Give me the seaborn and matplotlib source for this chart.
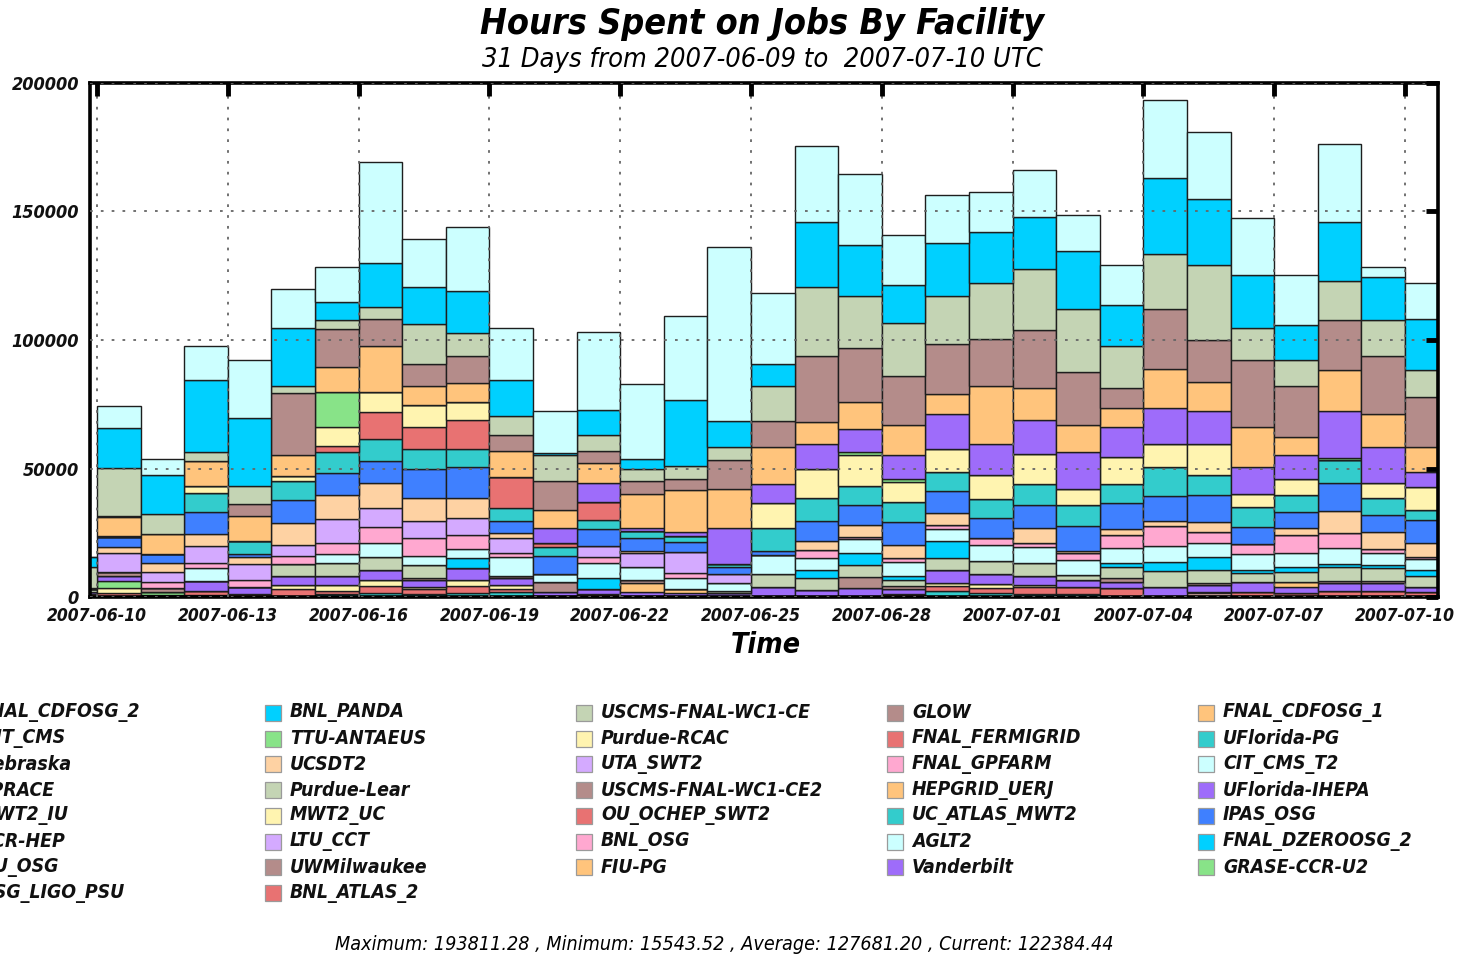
import os
import numpy as np
import pandas as pd
import matplotlib
matplotlib.use("Agg")
import matplotlib.pyplot as plt
import matplotlib.dates as mdates
from matplotlib.patches import Rectangle
from matplotlib.font_manager import FontProperties, fontManager, findfont
import seaborn as sns

# ---------------- data (thousands of hours per day) ----------------
days = ["2007-06-09", "2007-06-10", "2007-06-11", "2007-06-12", "2007-06-13", "2007-06-14",
        "2007-06-15", "2007-06-16", "2007-06-17", "2007-06-18", "2007-06-19", "2007-06-20",
        "2007-06-21", "2007-06-22", "2007-06-23", "2007-06-24", "2007-06-25", "2007-06-26",
        "2007-06-27", "2007-06-28", "2007-06-29", "2007-06-30", "2007-07-01", "2007-07-02",
        "2007-07-03", "2007-07-04", "2007-07-05", "2007-07-06", "2007-07-07", "2007-07-08",
        "2007-07-09", "2007-07-10"]

xtick_labels = ["2007-06-10", "2007-06-13", "2007-06-16", "2007-06-19", "2007-06-22", "2007-06-25",
                "2007-06-28", "2007-07-01", "2007-07-04", "2007-07-07", "2007-07-10"]
ytick_values = [0, 50000, 100000, 150000, 200000]
ytick_labels = ["0", "50000", "100000", "150000", "200000"]

FNAL_CDFOSG_2 = [0, 8.6, 6.2, 13.2, 22.4, 15.3, 13.9, 39.3, 18.4, 25.0, 20.1, 16.2, 30.2, 29.1, 32.5, 67.8,
                 27.6, 29.3, 27.5, 19.5, 18.5, 15.6, 18.1, 14.1, 15.6, 30.1, 25.9, 22.3, 19.3, 30.0, 3.9, 13.9]
BNL_PANDA = [4.0, 15.7, 15.4, 27.8, 26.6, 22.4, 6.7, 17.0, 14.5, 16.2, 13.9, 0.8, 10.0, 3.8, 25.7, 10.0,
             8.5, 25.5, 20.1, 14.8, 20.8, 19.9, 20.1, 22.3, 16.1, 29.6, 25.7, 20.7, 13.6, 23.2, 17.0, 19.8]
USCMS_FNAL_WC1_CE = [8.0, 18.4, 7.5, 3.8, 7.0, 3.0, 3.7, 4.6, 15.6, 9.0, 7.7, 10.1, 6.2, 4.9, 5.3, 4.8,
                     13.9, 26.8, 20.2, 20.6, 18.7, 21.9, 24.0, 24.7, 16.0, 21.5, 29.2, 12.2, 10.2, 15.3, 13.8, 10.7]
GLOW = [0, 0.6, 0, 0, 4.5, 23.9, 14.9, 10.8, 8.5, 10.5, 6.2, 11.1, 4.6, 4.9, 4.0, 11.6,
        10.0, 25.7, 20.8, 19.2, 19.4, 18.3, 22.3, 20.6, 7.9, 23.2, 16.4, 26.4, 20.0, 19.4, 22.5, 19.5]
FNAL_CDFOSG_1 = [0, 7.2, 8.0, 9.7, 10.1, 8.1, 9.4, 17.6, 7.6, 7.3, 10.2, 7.0, 7.9, 13.2, 16.4, 14.9,
                 14.5, 8.4, 10.7, 11.8, 7.8, 22.3, 12.5, 10.6, 7.6, 15.3, 11.4, 15.3, 7.1, 16.0, 13.0, 9.7]
MIT_CMS = [0, 0.6, 0, 0, 0, 0, 0, 0, 0, 0, 0, 5.9, 7.2, 1.2, 1.6, 14.2,
           7.4, 10.0, 8.8, 9.3, 13.7, 12.2, 13.2, 14.4, 11.6, 14.2, 12.8, 10.8, 9.3, 18.0, 14.1, 5.8]
TTU_ANTAEUS = [0, 0, 0, 0, 0, 0, 13.6, 0, 0, 0, 0, 0, 0, 0, 0, 0,
               0, 0, 1.4, 1.1, 0, 0, 0, 0, 0, 0, 0, 0, 0, 0.7, 0, 0]
Purdue_RCAC = [0, 0, 0, 2.6, 0, 2.1, 7.7, 8.0, 8.6, 7.2, 0, 0, 0, 0, 0, 0,
               9.4, 11.2, 12.0, 7.9, 8.8, 9.3, 12.0, 6.2, 10.6, 8.7, 11.9, 4.8, 6.2, 0, 5.5, 8.8]
FNAL_FERMIGRID = [0, 0, 0, 0, 0, 0, 2.1, 10.5, 8.6, 11.2, 11.7, 1.8, 6.9, 0, 0, 0,
                  0, 0, 0, 0, 0, 0, 0, 0, 0, 0, 0, 0, 0, 0, 0, 0]
UFlorida_PG = [0, 0, 0, 7.5, 4.9, 7.2, 8.3, 8.6, 7.4, 6.9, 5.2, 3.4, 3.8, 3.0, 2.3, 1.0,
               9.0, 9.1, 7.4, 7.6, 7.3, 7.3, 8.1, 8.1, 7.4, 11.4, 7.9, 7.8, 6.5, 9.1, 6.9, 3.9]
Nebraska = [0, 3.7, 3.6, 8.3, 1.3, 9.0, 8.6, 8.6, 11.4, 12.0, 4.6, 7.0, 6.5, 4.9, 3.9, 2.9,
            1.7, 7.5, 7.7, 9.0, 8.8, 8.1, 8.7, 9.6, 10.1, 9.7, 10.4, 6.7, 6.1, 11.1, 6.4, 9.0]
UCSDT2 = [0, 2.3, 3.5, 4.9, 2.7, 8.7, 9.1, 9.4, 9.0, 7.9, 2.2, 0, 0, 0.9, 0, 0,
          0, 3.7, 4.6, 5.2, 4.5, 0, 5.9, 1.0, 2.2, 1.8, 3.8, 0, 2.9, 8.3, 6.9, 5.7]
UTA_SWT2 = [0, 7.6, 3.9, 6.4, 6.1, 4.3, 9.4, 7.5, 6.8, 6.7, 5.6, 0, 4.4, 5.2, 8.2, 3.6,
            0, 0, 0, 0, 0, 0, 0, 0, 0, 0, 0, 0, 0, 0, 0, 0]
FNAL_GPFARM = [0, 0, 2.1, 2.3, 2.8, 3.2, 4.4, 6.2, 6.9, 5.5, 1.5, 0, 2.1, 0, 2.2, 0,
               0, 3.2, 1.0, 1.3, 1.7, 2.6, 1.8, 2.6, 5.2, 7.9, 4.3, 3.9, 6.9, 6.1, 1.5, 0.8]
CIT_CMS_T2 = [0, 0, 0, 5.0, 0, 0, 3.4, 5.7, 3.5, 3.6, 7.5, 2.9, 6.1, 5.2, 4.2, 2.9,
              7.4, 4.5, 5.2, 5.5, 4.4, 6.1, 6.0, 5.9, 5.8, 6.3, 5.7, 6.2, 5.4, 6.1, 4.6, 4.1]
SPRACE = [0, 0, 0, 0, 0, 0, 0, 0, 0, 3.9, 0, 0, 4.2, 0, 0, 0,
          0, 3.3, 4.8, 1.6, 6.9, 0, 0, 0, 1.6, 3.6, 4.7, 1.3, 2.0, 1.0, 1.3, 2.3]
Purdue_Lear = [0, 0, 0, 0, 0, 4.5, 5.1, 4.9, 4.9, 0, 0, 0, 0, 0, 0, 1.0,
               5.1, 4.5, 4.5, 2.3, 4.3, 5.2, 5.1, 1.9, 4.3, 6.2, 5.4, 3.2, 3.8, 5.5, 4.8, 4.4]
USCMS_FNAL_WC1_CE2 = [0, 1.7, 1.7, 0, 0, 0, 0, 0, 0.9, 0, 1.0, 3.9, 0, 1.3, 0, 0,
                      0, 0, 4.5, 1.3, 0, 0, 0, 0, 1.2, 0, 0.7, 0, 0, 1.0, 1.0, 0]
HEPGRID_UERJ = [0, 0, 0, 0, 0, 0, 0, 0, 0, 0, 0, 0, 0, 3.2, 1.6, 0,
                0, 0, 0, 0, 0, 0, 0, 0, 0, 0, 0, 0, 2.2, 0, 0, 0]
UFlorida_IHEPA = [0, 1.6, 0, 3.9, 2.6, 3.5, 3.5, 3.9, 2.8, 4.5, 2.5, 1.7, 2.0, 2.1, 1.4, 1.4,
                  3.8, 2.7, 3.4, 1.8, 5.4, 3.9, 3.5, 2.8, 2.6, 3.8, 2.5, 3.9, 2.1, 2.8, 2.8, 1.7]
MWT2_IU = [0, 3.0, 1.0, 0, 0, 0, 0, 0, 0, 0, 0, 0, 0, 0, 0, 0,
           0, 0, 0, 0, 0, 0, 0, 0, 0, 0, 0, 0, 0, 0, 0, 0]
MWT2_UC = [0, 1.7, 0, 0, 0, 1.6, 2.2, 2.3, 0.8, 2.3, 1.7, 0, 0, 0, 0, 0,
           0, 0, 0, 0, 1.0, 1.6, 0.9, 0, 0, 0, 0, 0, 0, 0, 0, 0]
OU_OCHEP_SWT2 = [0.5, 1.7, 0.9, 1.5, 1.2, 3.1, 1.3, 2.9, 2.0, 2.6, 1.1, 0.4, 1.0, 0, 0, 0,
                 0, 0, 0, 1.2, 1.8, 1.7, 2.6, 2.6, 3.4, 0, 0, 2.1, 1.7, 2.5, 2.5, 2.1]
UC_ATLAS_MWT2 = [0, 0, 0, 0, 0, 0, 1.2, 1.4, 1.0, 1.7, 1.9, 0, 0, 0, 0, 0,
                 0, 0, 0, 0, 2.5, 1.7, 1.2, 1.2, 0, 0, 0, 0, 0, 0, 0, 0]
IPAS_OSG = [0, 0, 0, 0, 0, 0, 0, 0, 0, 0, 0, 0, 0, 0, 0, 0,
            0, 0, 0, 0, 0, 0, 0, 0, 0, 0, 0, 0, 0, 0, 0, 0]
UCR_HEP = [0, 0, 0, 0, 0, 0, 0, 0, 0, 0, 0, 0, 0, 0, 0, 0,
           0, 0, 0, 0, 0, 0, 0, 0, 0, 0, 0, 0, 0, 0, 0, 0]
LTU_CCT = [0, 0, 0, 0, 0, 0, 0, 0, 0, 0, 0, 0, 0, 0, 0, 0,
           0, 0, 0, 0, 0, 0, 0, 0, 0, 0, 0, 0, 0, 0, 0, 0]
BNL_OSG = [0, 0, 0, 0, 0, 0, 0, 0, 0, 0, 0, 0, 0, 0, 0, 0,
           0, 0, 0, 0, 0, 0, 0, 0, 0, 0, 0, 0, 0, 0, 0, 0]
AGLT2 = [0, 0, 0, 0, 0, 0, 0, 0, 0, 0, 0, 0, 0, 0, 0, 0,
         0, 0, 0, 0, 0, 0, 0, 0, 0, 0, 0, 0, 0, 0, 0, 0]
FNAL_DZEROOSG_2 = [0, 0, 0, 0, 0, 0, 0, 0, 0, 0, 0, 0, 0, 0, 0, 0,
                   0, 0, 0, 0, 0, 0, 0, 0, 0, 0, 0, 0, 0, 0, 0, 0]
OU_OSG = [1.0, 0, 0, 0, 0, 0, 0, 0, 0, 0, 0, 0, 0, 0, 0, 0,
          0, 0, 0, 0, 0, 0, 0, 0, 0, 0, 0, 0, 0, 0, 0, 0]
UWMilwaukee = [0, 0, 0, 0, 0, 0, 0, 0, 0, 0, 0, 0, 0, 0, 0, 0,
               0, 0, 0, 0, 0, 0, 0, 0, 0, 0, 2.1, 0, 0, 0, 0, 0]
FIU_PG = [0, 0, 0, 0, 0, 0, 0, 0, 0, 0, 0, 0, 0, 0, 0, 0,
          0, 0, 0, 0, 0, 0, 0, 0, 0, 0, 0, 0, 0, 0, 0, 0]
Vanderbilt = [1.0, 0, 0, 0, 0, 0, 0, 0, 0, 0, 0, 0, 0, 0, 0, 0,
              0, 0, 0, 0, 0, 0, 0, 0, 0, 0, 0, 0, 0, 0, 0, 0]
GRASE_CCR_U2 = [0, 0, 0, 0, 0, 0, 0, 0, 0, 0, 0, 0, 0, 0, 0, 0,
                0, 0, 0, 0, 0, 0, 0, 0, 0, 0, 0, 0, 0, 0, 0, 0]
OSG_LIGO_PSU = [0, 0, 0, 0, 0, 0, 0, 0, 0, 0, 0, 0, 0, 0, 0, 0,
                0, 0, 0, 0, 0, 0, 0, 0, 0, 0, 0, 0, 0, 0, 0, 0]
BNL_ATLAS_2 = [1.0, 0, 0, 0.7, 0, 0, 0, 0, 0, 0, 0, 0, 0, 0, 0, 0,
               0, 0, 0, 0, 0, 0, 0, 0, 0, 0, 0, 0, 0, 0, 0, 0]

sites = ["FNAL_CDFOSG_2", "BNL_PANDA", "USCMS-FNAL-WC1-CE", "GLOW", "FNAL_CDFOSG_1",
         "MIT_CMS", "TTU-ANTAEUS", "Purdue-RCAC", "FNAL_FERMIGRID", "UFlorida-PG",
         "Nebraska", "UCSDT2", "UTA_SWT2", "FNAL_GPFARM", "CIT_CMS_T2",
         "SPRACE", "Purdue-Lear", "USCMS-FNAL-WC1-CE2", "HEPGRID_UERJ", "UFlorida-IHEPA",
         "MWT2_IU", "MWT2_UC", "OU_OCHEP_SWT2", "UC_ATLAS_MWT2", "IPAS_OSG",
         "UCR-HEP", "LTU_CCT", "BNL_OSG", "AGLT2", "FNAL_DZEROOSG_2",
         "OU_OSG", "UWMilwaukee", "FIU-PG", "Vanderbilt", "GRASE-CCR-U2",
         "OSG_LIGO_PSU", "BNL_ATLAS_2"]
series = [FNAL_CDFOSG_2, BNL_PANDA, USCMS_FNAL_WC1_CE, GLOW, FNAL_CDFOSG_1,
          MIT_CMS, TTU_ANTAEUS, Purdue_RCAC, FNAL_FERMIGRID, UFlorida_PG,
          Nebraska, UCSDT2, UTA_SWT2, FNAL_GPFARM, CIT_CMS_T2,
          SPRACE, Purdue_Lear, USCMS_FNAL_WC1_CE2, HEPGRID_UERJ, UFlorida_IHEPA,
          MWT2_IU, MWT2_UC, OU_OCHEP_SWT2, UC_ATLAS_MWT2, IPAS_OSG,
          UCR_HEP, LTU_CCT, BNL_OSG, AGLT2, FNAL_DZEROOSG_2,
          OU_OSG, UWMilwaukee, FIU_PG, Vanderbilt, GRASE_CCR_U2,
          OSG_LIGO_PSU, BNL_ATLAS_2]

cycle = ["#CCFFFF", "#00D0FF", "#C4D4B4", "#B48C8A", "#FFC47C", "#9E6CFA", "#88E388",
         "#FFF4B0", "#E87272", "#33CCCC", "#3F80FF", "#FED2A3", "#D4AAFF", "#FFA8D0"]
colors = [cycle[i % len(cycle)] for i in range(len(sites))]

title = "Hours Spent on Jobs By Facility"
subtitle = "31 Days from 2007-06-09 to  2007-07-10 UTC"
footer = "Maximum: 193811.28 , Minimum: 15543.52 , Average: 127681.20 , Current: 122384.44"

# ---------------- fonts ----------------
def find_font(cands, fallback):
    paths = {os.path.basename(f.fname): f.fname for f in fontManager.ttflist}
    for c in cands:
        if c in paths:
            return paths[c]
    return findfont(fallback)

BI = find_font(["DejaVuSansCondensed-BoldOblique.ttf", "LiberationSansNarrow-BoldItalic.ttf",
                "DejaVuSans-BoldOblique.ttf"],
               FontProperties(family="DejaVu Sans", weight="bold", style="italic"))
IT = find_font(["DejaVuSansCondensed-Oblique.ttf", "LiberationSansNarrow-Italic.ttf",
                "DejaVuSans-Oblique.ttf"],
               FontProperties(family="DejaVu Sans", style="italic"))

# ---------------- figure ----------------
W, H = 1457, 957
sns.set_theme(style="white")
plt.rcParams["font.family"] = ["DejaVu Sans"]

fig = plt.figure(figsize=(W / 100, H / 100), dpi=100)
fig.patch.set_facecolor("white")
ax = fig.add_axes([90 / W, 1 - 597 / H, (1438 - 90) / W, (597 - 83) / H])
ax.set_facecolor("white")

base = mdates.date2num(pd.Timestamp(days[0]).to_pydatetime())
rows = []
for name, vals in zip(sites, series):
    for i, v in enumerate(vals):
        rows.append((base + i + 0.5, v * 1000.0, name))
df = pd.DataFrame(rows, columns=["x", "hours", "site"])

sns.histplot(data=df, x="x", weights="hours", hue="site", hue_order=sites,
             palette=dict(zip(sites, colors)), multiple="stack",
             binwidth=1.0, binrange=(base, base + len(days)),
             alpha=1, edgecolor="#1e1e1e", linewidth=1.0, legend=False, ax=ax)

ax.set_xlim(base + 0.84, base + 31.757)
ax.set_ylim(0, 200000)
ax.set_xlabel("")
ax.set_ylabel("")

fig.canvas.draw()
r = fig.canvas.get_renderer()

def size_for(sample, path, target):
    t = fig.text(0, 0, sample, fontproperties=FontProperties(fname=path, size=10))
    w = t.get_window_extent(renderer=r).width
    t.remove()
    return 10 * target / w

xt_size = size_for("2007-06-10", BI, 99)
yt_size = size_for("200000", BI, 67)
lg_size = size_for("BNL_PANDA", BI, 115)

xpos = [mdates.date2num(pd.Timestamp(s).to_pydatetime()) for s in xtick_labels]
ax.set_xticks(xpos, labels=xtick_labels)
ax.set_yticks(ytick_values, labels=ytick_labels)
for t in ax.get_xticklabels():
    t.set_fontproperties(FontProperties(fname=BI, size=xt_size))
for t in ax.get_yticklabels():
    t.set_fontproperties(FontProperties(fname=BI, size=yt_size))
ax.tick_params(axis="both", which="major", direction="in", length=9, width=3.5,
               color="black", top=True, right=True, labelcolor="#111111")
ax.tick_params(axis="x", pad=7)
ax.tick_params(axis="y", pad=8)

ax.grid(True, color="#666666", linestyle=(0, (1.5, 4.5)), linewidth=1.3)
ax.set_axisbelow(False)
for s in ax.spines.values():
    s.set_visible(True)
    s.set_color("black")
    s.set_linewidth(2.6)

# ---------------- texts ----------------
def fitted(x, y, s, path, target, **kw):
    t = fig.text(x / W, 1 - y / H, s, fontproperties=FontProperties(fname=path, size=10),
                 color="black", **kw)
    w = t.get_window_extent(renderer=r).width
    t.set_fontsize(10 * target / w)
    return t

fitted(762, 24, title, BI, 563, ha="center", va="center")
fitted(762, 60, subtitle, IT, 562, ha="center", va="center")
fitted(766, 645, "Time", BI, 70, ha="center", va="center")
fitted(724, 945, footer, IT, 778, ha="center", va="center")

# ---------------- legend (5 columns, row-major) ----------------
for i, (name, col) in enumerate(zip(sites, colors)):
    row, c = divmod(i, 5)
    sx = -46 + c * 311
    yc = 713 + row * 25.72
    fig.add_artist(Rectangle((sx / W, 1 - (yc + 8) / H), 16 / W, 16 / H,
                             transform=fig.transFigure, facecolor=col,
                             edgecolor="#9a9a9a", linewidth=0.9))
    fig.text((sx + 25) / W, 1 - yc / H, name, ha="left", va="center",
             fontproperties=FontProperties(fname=BI, size=lg_size), color="#111111")

fig.savefig("out.png", dpi=100, facecolor="white")
